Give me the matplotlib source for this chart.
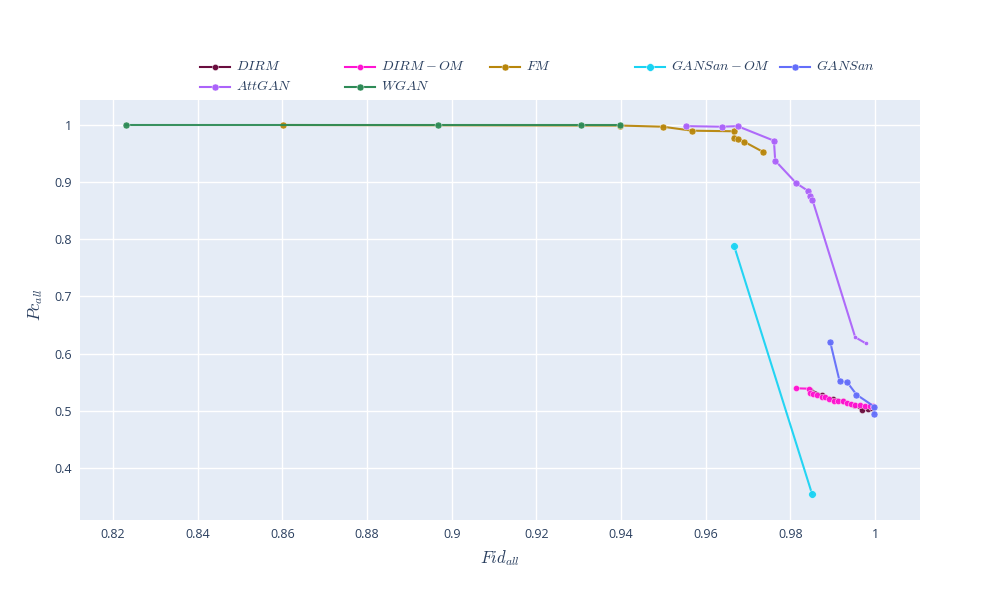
import matplotlib
matplotlib.use("Agg")
import matplotlib.pyplot as plt
from matplotlib.lines import Line2D

plt.rcParams['mathtext.fontset'] = 'cm'
plt.rcParams['font.family'] = ['Open Sans', 'DejaVu Sans']

# ---- data ----
dirm_x = [0.9846, 0.9874, 0.9900, 0.9925, 0.9950, 0.9969, 0.9982, 0.9992]
dirm_y = [0.537, 0.5275, 0.521, 0.518, 0.511, 0.5015, 0.503, 0.505]

dirm_om_x = [0.9813, 0.9844, 0.9847, 0.9854, 0.9862, 0.9874, 0.9882, 0.9892, 0.9903,
             0.9913, 0.9925, 0.9933, 0.9943, 0.9953, 0.9965, 0.9976, 0.9988, 0.9996]
dirm_om_y = [0.5394, 0.5387, 0.532, 0.5295, 0.5272, 0.5247, 0.524, 0.520, 0.5177,
             0.5177, 0.5172, 0.5142, 0.512, 0.5102, 0.5097, 0.5085, 0.508, 0.5085]

fm_x = [0.8602, 0.9398, 0.9498, 0.9568, 0.9666, 0.9666, 0.9676, 0.9690, 0.9735]
fm_y = [1.0, 0.999, 0.997, 0.990, 0.989, 0.977, 0.9755, 0.971, 0.953]

gansan_om_x = [0.9667, 0.9851]
gansan_om_y = [0.7883, 0.3546]

gansan_x = [0.9894, 0.9916, 0.9934, 0.9956, 0.9998, 0.9998]
gansan_y = [0.620, 0.5522, 0.550, 0.5283, 0.5073, 0.495]

attgan_x = [0.9553, 0.9638, 0.9675, 0.9761, 0.9764, 0.9814, 0.9842, 0.9847, 0.9852, 0.9953, 0.9978]
attgan_y = [0.998, 0.997, 0.998, 0.9725, 0.9376, 0.898, 0.8845, 0.8753, 0.869, 0.6287, 0.618]

wgan_x = [0.8231, 0.8967, 0.9305, 0.9398]
wgan_y = [1.0, 1.0, 1.0, 1.0]

names = ['$DIRM$', '$DIRM-OM$', '$FM$', '$GANSan-OM$', '$GANSan$', '$AttGAN$', '$WGAN$']
colors = ['#6a0d3e', '#ff14d2', '#b8860b', '#19d3f3', '#636efa', '#ab63fa', '#2e8b57']
series = [(dirm_x, dirm_y), (dirm_om_x, dirm_om_y), (fm_x, fm_y),
          (gansan_om_x, gansan_om_y), (gansan_x, gansan_y),
          (attgan_x, attgan_y), (wgan_x, wgan_y)]
msizes = [4.5, 4.5, 5.0, 5.5, 5.0, 5.0, 5.0]

x_ticks = [0.82, 0.84, 0.86, 0.88, 0.9, 0.92, 0.94, 0.96, 0.98, 1.0]
x_labels = ['0.82', '0.84', '0.86', '0.88', '0.9', '0.92', '0.94', '0.96', '0.98', '1']
y_ticks = [0.4, 0.5, 0.6, 0.7, 0.8, 0.9, 1.0]
y_labels = ['0.4', '0.5', '0.6', '0.7', '0.8', '0.9', '1']

fig = plt.figure(figsize=(10, 6), dpi=100)
ax = fig.add_axes([0.08, 80 / 600, 0.84, 420 / 600])
ax.set_facecolor('#e5ecf6')
for s in ax.spines.values():
    s.set_visible(False)
ax.set_axisbelow(True)
ax.grid(True, color='white', linewidth=1.0)

for i, ((xs, ys), c, ms) in enumerate(zip(series, colors, msizes)):
    if names[i] == '$AttGAN$':
        # the last two AttGAN markers are drawn smaller in the reference
        ax.plot(xs, ys, color=c, linewidth=1.5, alpha=0.95)
        ax.plot(xs[:-2], ys[:-2], linestyle='none', marker='o', markersize=ms,
                color=c, markeredgecolor='white', markeredgewidth=0.3, alpha=0.95)
        ax.plot(xs[-2:], ys[-2:], linestyle='none', marker='o', markersize=ms * 0.6,
                color=c, markeredgecolor='white', markeredgewidth=0.3, alpha=0.95)
    else:
        ax.plot(xs, ys, color=c, linewidth=1.5, marker='o', markersize=ms,
                markeredgecolor='white', markeredgewidth=0.3, alpha=0.95)

ax.set_xlim(0.8122, 1.0106)
ax.set_ylim(0.309, 1.0437)
ax.set_xticks(x_ticks)
ax.set_xticklabels(x_labels)
ax.set_yticks(y_ticks)
ax.set_yticklabels(y_labels)
ax.tick_params(length=0, labelsize=9, labelcolor='#2a3f5f', pad=6)

fig.text(0.5, 1 - 558 / 600, '$Fid_{all}$', ha='center', va='center',
         fontsize=12, color='#2a3f5f')
fig.text(0.036, 1 - 305 / 600, '$Pc_{all}$', ha='center', va='center',
         fontsize=12, color='#2a3f5f', rotation=90)

# legend (horizontal, plotly-style)
W, H = 1000.0, 600.0
leg_pos = [(200, 67), (345, 67), (490, 67), (635, 67), (780, 67), (200, 87), (345, 87)]
for (px, py), name, c, ms in zip(leg_pos, names, colors, msizes):
    yf = 1 - py / H
    fig.add_artist(Line2D([px / W, (px + 30) / W], [yf, yf], transform=fig.transFigure,
                          color=c, linewidth=1.5))
    fig.add_artist(Line2D([(px + 15) / W], [yf], transform=fig.transFigure,
                          color=c, marker='o', markersize=ms, markeredgecolor='white',
                          markeredgewidth=0.3, linestyle='none'))
    fig.text((px + 36) / W, yf, name, ha='left', va='center', fontsize=10,
             color='#2a3f5f')

fig.savefig('out.png', dpi=100)
